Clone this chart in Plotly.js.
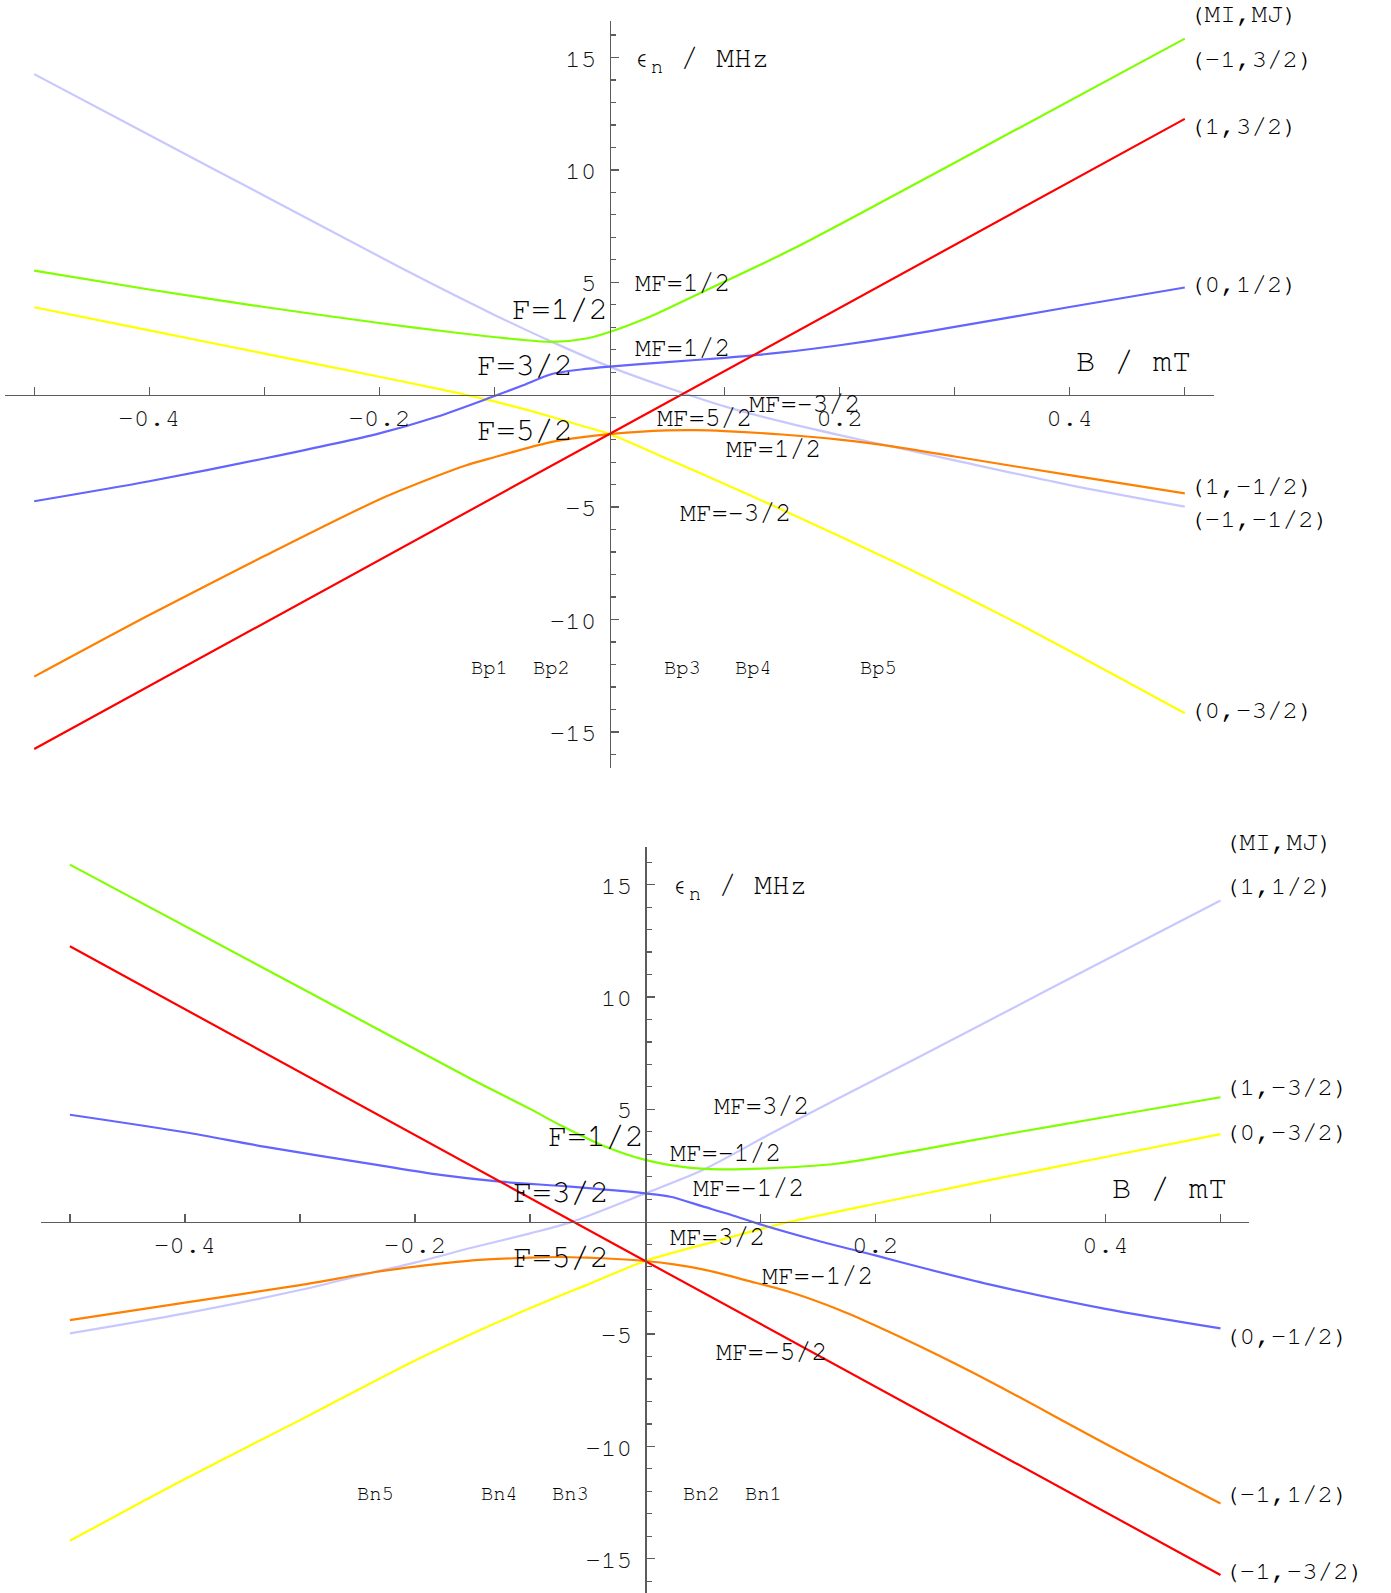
<!DOCTYPE html>
<html>
<head>
<meta charset="utf-8">
<script src="https://cdn.plot.ly/plotly-3.0.1.min.js"></script>
<style>
  html, body { margin: 0; padding: 0; background: #ffffff; }
  #chart { width: 1391px; height: 1593px; }
</style>
</head>
<body>
<div id="chart"></div>
<script>
// ---- Energy levels, upper panel (B in mT, energy in MHz) ----
const bGreenTop  = [-0.5, -0.4, -0.3, -0.2, -0.14, -0.08, -0.05, -0.02, 0, 0.035, 0.08, 0.16, 0.3, 0.5];
const eGreenTop  = [5.52, 4.68, 3.90, 3.19, 2.80, 2.46, 2.35, 2.50, 2.79, 3.47, 4.55, 6.50, 10.32, 15.84];

const bRedTop    = [-0.5, 0, 0.5];
const eRedTop    = [-15.76, -1.75, 12.27];

const bBlueTop   = [-0.5, -0.4, -0.3, -0.2, -0.15, -0.1, -0.075, -0.05, -0.025, 0, 0.05, 0.1, 0.15, 0.2, 0.25, 0.3, 0.4, 0.5];
const eBlueTop   = [-4.74, -3.85, -2.84, -1.72, -0.98, -0.06, 0.42, 0.92, 1.12, 1.25, 1.45, 1.64, 1.88, 2.20, 2.58, 3.02, 3.90, 4.77];

const bOrangeTop = [-0.5, -0.4, -0.3, -0.2, -0.15, -0.125, -0.1, -0.075, -0.05, -0.025, 0, 0.025, 0.05, 0.075, 0.1, 0.15, 0.2, 0.25, 0.3, 0.4, 0.5];
const eOrangeTop = [-12.54, -9.80, -7.18, -4.66, -3.62, -3.15, -2.78, -2.42, -2.10, -1.90, -1.75, -1.65, -1.59, -1.58, -1.62, -1.77, -2.00, -2.33, -2.75, -3.58, -4.39];

const bLavTop    = [-0.5, -0.4, -0.3, -0.2, -0.15, -0.1, -0.05, 0, 0.05, 0.1, 0.15, 0.2, 0.25, 0.3, 0.4, 0.5];
const eLavTop    = [14.26, 11.55, 8.85, 6.15, 4.82, 3.55, 2.35, 1.25, 0.32, -0.52, -1.20, -1.80, -2.36, -2.92, -4.02, -4.98];

const bYelTop    = [-0.5, -0.4, -0.3, -0.2, -0.15, -0.125, -0.1, -0.075, -0.05, -0.025, 0, 0.05, 0.1, 0.15, 0.2, 0.25, 0.3, 0.35, 0.4, 0.45, 0.5];
const eYelTop    = [3.89, 2.86, 1.83, 0.80, 0.27, 0.0, -0.30, -0.63, -0.99, -1.37, -1.75, -2.85, -3.97, -5.12, -6.30, -7.50, -8.75, -10.05, -11.40, -12.78, -14.17];

// ---- Energy levels, lower panel ----
const bGreenBot  = [-0.5, -0.3, -0.15, -0.1, -0.074, -0.036, 0, 0.036, 0.065, 0.1, 0.166, 0.239, 0.31, 0.4, 0.5];
const eGreenBot  = [15.89, 10.42, 6.32, 5.02, 4.30, 3.37, 2.75, 2.42, 2.33, 2.36, 2.58, 3.20, 3.86, 4.66, 5.54];

const bRedBot    = [-0.5, 0, 0.5];
const eRedBot    = [12.26, -1.75, -15.72];

const bBlueBot   = [-0.5, -0.4, -0.33, -0.236, -0.178, -0.126, -0.065, 0, 0.022, 0.05, 0.075, 0.1, 0.15, 0.2, 0.24, 0.3, 0.4, 0.5];
const eBlueBot   = [4.76, 3.98, 3.33, 2.55, 2.08, 1.78, 1.56, 1.26, 1.11, 0.68, 0.30, -0.12, -0.85, -1.50, -2.04, -2.80, -3.88, -4.75];

const bOrangeBot = [-0.5, -0.4, -0.3, -0.236, -0.2, -0.15, -0.1, -0.075, -0.05, -0.025, 0, 0.025, 0.05, 0.065, 0.087, 0.125, 0.17, 0.2, 0.24, 0.3, 0.4, 0.5];
const eOrangeBot = [-4.38, -3.60, -2.82, -2.25, -2.00, -1.72, -1.60, -1.57, -1.60, -1.66, -1.75, -1.90, -2.12, -2.30, -2.60, -3.12, -3.95, -4.62, -5.58, -7.12, -9.88, -12.54];

const bLavBot    = [-0.5, -0.4, -0.3, -0.236, -0.2, -0.15, -0.1, -0.065, 0, 0.05, 0.1085, 0.1664, 0.2388, 0.35, 0.5];
const eLavBot    = [-4.97, -4.08, -3.04, -2.25, -1.82, -1.15, -0.52, -0.03, 1.26, 2.30, 3.90, 5.45, 7.35, 10.32, 14.29];

const bYelBot    = [-0.5, -0.4, -0.3, -0.2, -0.15, -0.08, -0.05, 0, 0.065, 0.1, 0.126, 0.2, 0.24, 0.3, 0.4, 0.5];
const eYelBot    = [-14.20, -11.45, -8.83, -6.18, -4.97, -3.42, -2.80, -1.75, -0.82, -0.33, 0.0, 0.80, 1.22, 1.86, 2.88, 3.90];

// ---- Tick labels ----
const bTickVals  = [-0.4, -0.2, 0.2, 0.4];
const bTickText  = ['-0.4', '-0.2', '0.2', '0.4'];
const bMinorVals = [-0.5, -0.3, -0.1, 0.1, 0.3, 0.5];
const eTickVals  = [-15, -10, -5, 5, 10, 15];
const eTickText  = ['-15', '-10', '-5', '5', '10', '15'];
const eMinorVals = [-16, -14, -13, -12, -11, -9, -8, -7, -6, -4, -3, -2, -1, 1, 2, 3, 4, 6, 7, 8, 9, 11, 12, 13, 14, 16];

// ---- Text labels ----
const stateHeader     = '(MI,MJ)';
const topStateLabels  = ['(-1,3/2)', '(1,3/2)', '(0,1/2)', '(1,-1/2)', '(-1,-1/2)', '(0,-3/2)'];
const botStateLabels  = ['(1,1/2)', '(1,-3/2)', '(0,-3/2)', '(0,-1/2)', '(-1,1/2)', '(-1,-3/2)'];
const fLabels         = ['F=1/2', 'F=3/2', 'F=5/2'];
const topMFLabels     = ['MF=1/2', 'MF=1/2', 'MF=-3/2', 'MF=5/2', 'MF=1/2', 'MF=-3/2'];
const botMFLabels     = ['MF=3/2', 'MF=-1/2', 'MF=-1/2', 'MF=3/2', 'MF=-1/2', 'MF=-5/2'];
const topCrossLabels  = ['Bp1', 'Bp2', 'Bp3', 'Bp4', 'Bp5'];
const botCrossLabels  = ['Bn5', 'Bn4', 'Bn3', 'Bn2', 'Bn1'];
const energyAxisLabel = 'ϵ<sub>n</sub> / MHz';
const fieldAxisLabel  = 'B / mT';

// ---- Page geometry ----
const W = 1391, H = 1593;
const XR = [-0.525, 0.525];
const panels = {
  top:    { ox: 609.5, oy: 394.7,  sx: 1150.6, sy: 22.48, yr: [-16.6, 16.64], xa: 'x',  ya: 'y'  },
  bottom: { ox: 645.2, oy: 1221.7, sx: 1150.6, sy: 22.47, yr: [-16.52, 16.68], xa: 'x2', ya: 'y2' }
};

const MONO = "'Nimbus Mono PS', 'Nimbus Mono L', FreeMono, 'Liberation Mono', monospace";
const AXIS_COLOR = '#5c5c5c';
const COLORS = {
  green: '#80ff00', red: '#ff0000', blue: '#6464ff',
  orange: '#ff8000', lav: '#c8c8ff', yellow: '#ffff00'
};

function xDomain(p) {
  return [(p.ox + p.sx * XR[0]) / W, (p.ox + p.sx * XR[1]) / W];
}
function yDomain(p) {
  const lo = 1 - (p.oy - p.sy * p.yr[0]) / H;
  const hi = 1 - (p.oy - p.sy * p.yr[1]) / H;
  return [Math.max(0, lo), Math.min(1, hi)];
}

function xAxis(p) {
  return {
    domain: xDomain(p), range: XR, anchor: 'free', position: 1 - p.oy / H,
    showline: true, linecolor: AXIS_COLOR, linewidth: 1.6,
    showgrid: false, zeroline: false,
    ticks: 'inside', ticklen: 8, tickwidth: 1.3, tickcolor: AXIS_COLOR,
    tickmode: 'array', tickvals: bTickVals, ticktext: bTickText,
    tickfont: { family: MONO, size: 26, color: '#111' },
    ticklabelstandoff: -2,
    minor: { tickmode: 'array', tickvals: bMinorVals, ticks: 'inside', ticklen: 8, tickwidth: 1.3, tickcolor: AXIS_COLOR },
    fixedrange: true
  };
}
function yAxis(p) {
  return {
    domain: yDomain(p), range: p.yr, anchor: 'free', position: p.ox / W, side: 'left',
    showline: true, linecolor: AXIS_COLOR, linewidth: 1.6,
    showgrid: false, zeroline: false,
    ticks: 'inside', ticklen: 8, tickwidth: 1.3, tickcolor: AXIS_COLOR,
    tickmode: 'array', tickvals: eTickVals, ticktext: eTickText,
    tickfont: { family: MONO, size: 26, color: '#111' },
    ticklabelstandoff: 8,
    minor: { tickmode: 'array', tickvals: eMinorVals, ticks: 'inside', ticklen: 5, tickwidth: 1.2, tickcolor: AXIS_COLOR },
    fixedrange: true
  };
}

function curve(p, b, e, color) {
  return {
    type: 'scatter', mode: 'lines', x: b, y: e,
    xaxis: p.xa, yaxis: p.ya,
    line: { color: color, width: 2.2, shape: 'spline', smoothing: 0.8 },
    hoverinfo: 'skip', showlegend: false
  };
}

const P = panels.top, Q = panels.bottom;
const traces = [
  curve(P, bLavTop, eLavTop, COLORS.lav),
  curve(P, bYelTop, eYelTop, COLORS.yellow),
  curve(P, bOrangeTop, eOrangeTop, COLORS.orange),
  curve(P, bBlueTop, eBlueTop, COLORS.blue),
  curve(P, bGreenTop, eGreenTop, COLORS.green),
  curve(P, bRedTop, eRedTop, COLORS.red),
  curve(Q, bLavBot, eLavBot, COLORS.lav),
  curve(Q, bYelBot, eYelBot, COLORS.yellow),
  curve(Q, bOrangeBot, eOrangeBot, COLORS.orange),
  curve(Q, bBlueBot, eBlueBot, COLORS.blue),
  curve(Q, bGreenBot, eGreenBot, COLORS.green),
  curve(Q, bRedBot, eRedBot, COLORS.red)
];

const SHIFT_L = -5;   // glyph side bearing of the monospace face

// text placed in a panel's data coordinates
function label(p, x, y, text, size, xanchor, extra) {
  return Object.assign({
    xref: p.xa, yref: p.ya, x: x, y: y, text: text, showarrow: false,
    xanchor: xanchor, yanchor: 'middle',
    font: { family: MONO, size: size, color: '#000' }
  }, extra || {});
}
// text above the top of a panel's energy range
function headerLabel(p, x, e, text, size) {
  return {
    xref: p.xa, yref: 'paper', x: x, y: 1 - (p.oy - p.sy * e) / H, text: text,
    showarrow: false, xanchor: 'left', yanchor: 'middle', xshift: SHIFT_L - 3,
    font: { family: MONO, size: size, color: '#000' }
  };
}

const annotations = [];

// upper panel
annotations.push(label(P, 0.0232, 14.98, energyAxisLabel, 29.5, 'left', { xshift: SHIFT_L, yshift: -2 }));
annotations.push(label(P, 0.5036, 1.50, fieldAxisLabel, 32, 'right', { xshift: 4, yshift: 0 }));
annotations.push(headerLabel(P, 0.5085, 16.92, stateHeader, 26));
[14.90, 11.92, 4.89, -4.09, -5.58, -14.09].forEach((e, i) =>
  annotations.push(label(P, 0.5085, e, topStateLabels[i], 26, 'left', { xshift: SHIFT_L - 3, yshift: 1 })));
[[-0.0039, 3.80], [-0.0343, 1.32], [-0.0343, -1.57]].forEach((v, i) =>
  annotations.push(label(P, v[0], v[1], fLabels[i], 32, 'right', { xshift: 5 })));
[[0.0245, 4.96], [0.0245, 2.06], [0.1236, -0.41], [0.0439, -1.05], [0.1041, -2.43], [0.0641, -5.28]].forEach((v, i) =>
  annotations.push(label(P, v[0], v[1], topMFLabels[i], 26.5, 'left', { xshift: SHIFT_L })));
[-0.1043, -0.0504, 0.0637, 0.1255, 0.234].forEach((b, i) =>
  annotations.push(label(P, b, -12.14, topCrossLabels[i], 20.5, 'center')));

// lower panel
annotations.push(label(Q, 0.0247, 14.98, energyAxisLabel, 29.5, 'left', { xshift: SHIFT_L, yshift: -2 }));
annotations.push(label(Q, 0.5039, 1.49, fieldAxisLabel, 32, 'right', { xshift: 4, yshift: 0 }));
annotations.push(headerLabel(Q, 0.5083, 16.91, stateHeader, 26));
[14.91, 5.94, 3.93, -5.12, -12.16, -15.58].forEach((e, i) =>
  annotations.push(label(Q, 0.5083, e, botStateLabels[i], 26, 'left', { xshift: SHIFT_L - 3, yshift: 1 })));
[[-0.0039, 3.81], [-0.0341, 1.34], [-0.0341, -1.56]].forEach((v, i) =>
  annotations.push(label(Q, v[0], v[1], fLabels[i], 32, 'right', { xshift: 5 })));
[[0.0621, 5.16], [0.0239, 3.04], [0.0442, 1.49], [0.0239, -0.67], [0.1041, -2.42], [0.0644, -5.81]].forEach((v, i) =>
  annotations.push(label(Q, v[0], v[1], botMFLabels[i], 26.5, 'left', { xshift: SHIFT_L })));
[-0.2345, -0.1267, -0.0649, 0.049, 0.1025].forEach((b, i) =>
  annotations.push(label(Q, b, -12.10, botCrossLabels[i], 20.5, 'center')));

const layout = {
  width: W, height: H,
  margin: { l: 0, r: 0, t: 0, b: 0, pad: 0 },
  paper_bgcolor: '#ffffff', plot_bgcolor: 'rgba(0,0,0,0)',
  showlegend: false,
  xaxis: xAxis(P), yaxis: yAxis(P),
  xaxis2: xAxis(Q), yaxis2: yAxis(Q),
  annotations: annotations
};

Plotly.newPlot('chart', traces, layout, { staticPlot: true, displayModeBar: false });
</script>
</body>
</html>
